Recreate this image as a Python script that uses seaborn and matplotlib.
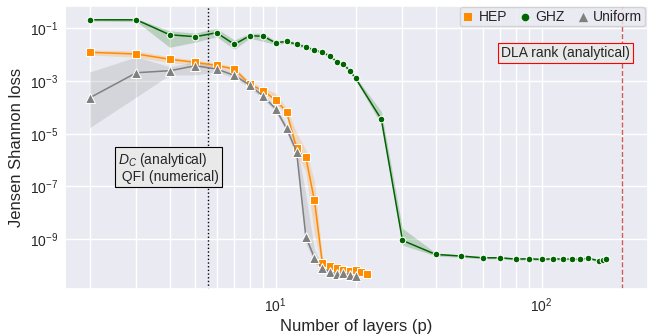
import matplotlib
matplotlib.use("Agg")
import matplotlib.pyplot as plt
import pandas as pd
import seaborn as sns
from matplotlib.ticker import NullLocator

# ---------------- data ----------------
hep_layers = [2, 3, 4, 5, 6, 7, 8, 9, 10, 11, 12, 13, 14, 15, 16, 17, 18, 19, 20, 21, 22]
hep_loss = [1.23e-2, 1.06e-2, 6.7e-3, 5.1e-3, 3.9e-3, 2.85e-3, 7.5e-4, 4.3e-4, 1.9e-4, 6.8e-5,
            2.8e-6, 1.27e-6, 3.0e-8, 1.24e-10, 1.0e-10, 7.8e-11, 6.9e-11, 6.5e-11, 6.7e-11,
            5.8e-11, 5.0e-11]
hep_low = [9.8e-3, 8.0e-3, 5.0e-3, 4.0e-3, 3.2e-3, 2.3e-3, 6.0e-4, 3.4e-4, 1.45e-4, 5.1e-5,
           1.9e-6, 3.6e-7, 1.6e-9, 9.0e-11, 8.5e-11, 6.8e-11, 6.0e-11, 5.7e-11, 5.8e-11,
           5.0e-11, 4.4e-11]
hep_high = [1.5e-2, 1.4e-2, 8.3e-3, 6.3e-3, 4.8e-3, 3.5e-3, 9.5e-4, 5.4e-4, 3.5e-4, 9.3e-5,
            1.1e-5, 2.4e-6, 1.6e-7, 2.1e-10, 1.2e-10, 9.0e-11, 8.0e-11, 7.5e-11, 7.7e-11,
            6.7e-11, 5.7e-11]

ghz_layers = [2, 3, 4, 5, 6, 7, 8, 9, 10, 11, 12, 13, 14, 15, 16, 17, 18, 19, 20, 25, 30,
              40, 50, 60, 70, 80, 90, 100, 110, 120, 130, 140, 150, 165, 170, 175]
ghz_loss = [0.21, 0.21, 0.057, 0.048, 0.068, 0.0247, 0.052, 0.050, 0.028, 0.032, 0.0247,
            0.0195, 0.0150, 0.0123, 0.0089, 0.0054, 0.0044, 0.00246, 0.00127, 3.5e-5, 9.0e-10,
            2.65e-10, 2.29e-10, 1.97e-10, 1.97e-10, 1.76e-10, 1.80e-10, 1.71e-10, 1.80e-10,
            1.76e-10, 1.76e-10, 1.71e-10, 1.92e-10, 1.48e-10, 1.65e-10, 1.70e-10]
ghz_low = [0.19, 0.18, 0.019, 0.030, 0.048, 0.016, 0.042, 0.032, 0.024, 0.028, 0.021,
           0.017, 0.013, 0.0108, 0.0078, 0.0047, 0.0038, 0.0021, 0.0011, 2.2e-5, 6.0e-10,
           2.3e-10, 2.05e-10, 1.8e-10, 1.8e-10, 1.6e-10, 1.63e-10, 1.55e-10, 1.63e-10,
           1.6e-10, 1.6e-10, 1.55e-10, 1.75e-10, 1.3e-10, 1.5e-10, 1.55e-10]
ghz_high = [0.23, 0.23, 0.080, 0.066, 0.10, 0.036, 0.065, 0.065, 0.033, 0.037, 0.029,
            0.023, 0.017, 0.014, 0.0102, 0.0062, 0.0051, 0.0029, 0.00145, 7.0e-5, 2.6e-9,
            3.0e-10, 2.55e-10, 2.15e-10, 2.15e-10, 1.95e-10, 2.0e-10, 1.9e-10, 2.0e-10,
            1.95e-10, 1.95e-10, 1.9e-10, 2.1e-10, 1.65e-10, 1.8e-10, 1.85e-10]

uni_layers = [2, 3, 4, 5, 6, 7, 8, 9, 10, 11, 12, 13, 14, 15, 16, 17, 18, 19, 20]
uni_loss = [2.3e-4, 2.07e-3, 2.46e-3, 3.8e-3, 2.85e-3, 1.64e-3, 7.0e-4, 2.6e-4, 9.0e-5,
            1.6e-5, 2.07e-6, 1.23e-9, 2.0e-10, 7.8e-11, 5.8e-11, 4.9e-11, 5.2e-11, 4.4e-11,
            4.0e-11]
uni_low = [1.7e-5, 2.5e-4, 1.7e-3, 1.7e-3, 2.2e-3, 1.3e-3, 5.5e-4, 2.0e-4, 7.0e-5, 1.2e-5,
           1.3e-6, 7.0e-10, 1.3e-10, 6.0e-11, 4.6e-11, 3.9e-11, 4.2e-11, 3.5e-11, 3.2e-11]
uni_high = [2.2e-3, 8.3e-3, 3.5e-3, 5.4e-3, 3.5e-3, 2.1e-3, 8.8e-4, 3.3e-4, 1.15e-4, 2.2e-5,
            4.5e-6, 5.0e-8, 4.0e-10, 1.0e-10, 7.3e-11, 6.1e-11, 6.5e-11, 5.5e-11, 5.0e-11]

series_names = ["HEP", "GHZ", "Uniform"]
series_colors = ["darkorange", "darkgreen", "grey"]
series_markers = ["s", "o", "^"]

dc_layers = 5.56
dla_rank = 200

# ---------------- style ----------------
sns.set_theme(style="darkgrid")
plt.rcParams["font.family"] = ["Liberation Sans", "DejaVu Sans"]
plt.rcParams["mathtext.fontset"] = "custom"
plt.rcParams["mathtext.rm"] = "Liberation Sans"
plt.rcParams["mathtext.it"] = "Liberation Sans:italic"
plt.rcParams["mathtext.bf"] = "Liberation Sans:bold"

fig, ax = plt.subplots(figsize=(6.64, 3.35), dpi=100)
fig.subplots_adjust(left=0.098, right=0.976, top=0.982, bottom=0.137)
ax.set_xscale("log")
ax.set_yscale("log")

ax.axvline(dc_layers, color="black", ls=":", lw=1.0, zorder=1.5)
ax.axvline(dla_rank, color="indianred", ls="--", lw=1.0, zorder=1.5)


def long_frame(layers, low, mid, high):
    return pd.DataFrame({
        "layers": list(layers) * 3,
        "loss": list(low) + list(mid) + list(high),
    })


data = [
    (hep_layers, hep_low, hep_loss, hep_high, 5.2),
    (ghz_layers, ghz_low, ghz_loss, ghz_high, 4.8),
    (uni_layers, uni_low, uni_loss, uni_high, 7.0),
]
for (layers, lo, mid, hi, ms), color, marker in zip(data, series_colors, series_markers):
    df = long_frame(layers, lo, mid, hi)
    sns.lineplot(data=df, x="layers", y="loss", estimator="median",
                 errorbar=("pi", 100), color=color, marker=marker, markersize=ms,
                 lw=1.1, ax=ax, err_kws={"alpha": 0.2, "lw": 0})

ax.set_xlim(1.617, 251.5)
ax.set_ylim(1.28e-11, 0.70)
ax.set_yticks([1e-1, 1e-3, 1e-5, 1e-7, 1e-9])
ax.yaxis.set_minor_locator(NullLocator())
ax.grid(True, which="minor", axis="x", color="white", lw=1.0)
ax.tick_params(which="both", labelsize=10, length=0, pad=5)
ax.set_xlabel("Number of layers (p)", fontsize=12, labelpad=3)
ax.set_ylabel("Jensen Shannon loss", fontsize=12, labelpad=4)

# legend (marker-only handles)
handles = []
for name, color, marker, s in zip(series_names, series_colors, series_markers, [30, 30, 45]):
    handles.append(ax.scatter([], [], marker=marker, s=s, color=color, linewidths=0, label=name))
ax.legend(handles=handles, ncol=3, loc="upper right", bbox_to_anchor=(0.995, 0.9975),
          borderaxespad=0, fontsize=10, handlelength=0.8, handletextpad=0.35,
          columnspacing=0.9, borderpad=0.2, scatterpoints=1)

ax.text(0.0906, 0.429, "$D_C$ (analytical)\n QFI (numerical)", transform=ax.transAxes,
        ha="left", va="center", fontsize=10, linespacing=1.05, zorder=5,
        bbox=dict(boxstyle="square,pad=0.2", facecolor="#e9e9e9", edgecolor="black", lw=0.8))
ax.text(0.9688, 0.835, "DLA rank (analytical)", transform=ax.transAxes,
        ha="right", va="center", fontsize=10, zorder=5,
        bbox=dict(boxstyle="square,pad=0.2", facecolor="#e9e9e9", edgecolor="red", lw=0.8))

fig.savefig("out.png", dpi=100)
